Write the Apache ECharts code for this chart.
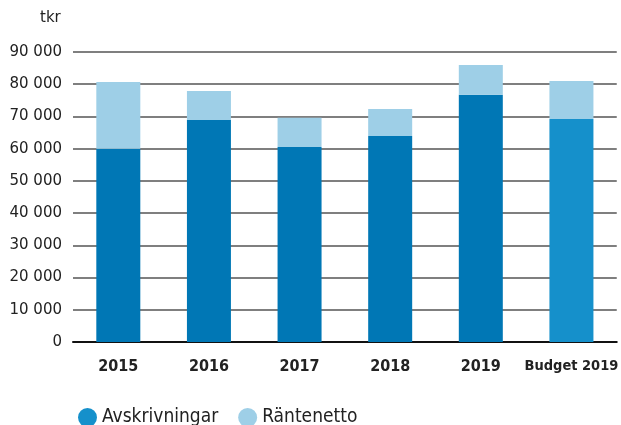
<!DOCTYPE html>
<html><head><meta charset="utf-8">
<script src="https://cdn.jsdelivr.net/npm/echarts@6/dist/echarts.min.js"></script>
<style>html,body{margin:0;padding:0;background:#fff}#c{width:621px;height:425px}</style>
</head><body><div id="c"></div>
<script>
const categories = ['2015','2016','2017','2018','2019','Budget 2019'];
const avskrivningar = [60000, 68900, 60500, 63900, 76700, 69200];
const rantenetto = [20700, 9000, 9100, 8400, 9300, 11800];
const yTicks = [0,10000,20000,30000,40000,50000,60000,70000,80000,90000];
const seriesNames = ['Avskrivningar','Räntenetto'];

const dark = '#0077b5', budget = '#1590cb', light = '#9ecfe7';
const chart = echarts.init(document.getElementById('c'), null, {renderer:'canvas'});
const fmt = v => v === 0 ? '0' : String(v).replace(/\B(?=(\d{3})+(?!\d))/g, ' ');
chart.setOption({
  animation:false,
  textStyle:{fontFamily:'DejaVu Sans'},
  grid:{left:73, right:0, top:52, bottom:83, containLabel:false},
  graphic:[{type:'text', left:40, top:11, style:{text:'tkr', fontSize:15, fill:'#222', fontFamily:'DejaVu Sans'}}],
  legend:{left:73, top:403, itemWidth:19, itemHeight:19, itemGap:20, icon:'circle',
    textStyle:{fontSize:19, color:'#222', fontFamily:'DejaVu Sans Condensed'},
    data:[{name:seriesNames[0], itemStyle:{color:budget}},{name:seriesNames[1]}]},
  xAxis:{type:'category', data:categories,
    axisLine:{lineStyle:{color:'#111', width:2}}, axisTick:{show:false},
    axisLabel:{interval:0, fontSize:16, fontWeight:'bold', color:'#222', margin:17, fontFamily:'DejaVu Sans Condensed',
      formatter:v=> v.length>4 ? '{s|'+v+'}' : v,
      rich:{s:{fontSize:14.5, fontWeight:'bold', color:'#222', fontFamily:'DejaVu Sans Condensed'}}}},
  yAxis:{type:'value', min:0, max:90000, interval:10000,
    axisLine:{show:false}, axisTick:{show:false},
    splitLine:{lineStyle:{color:'#555', width:1.5}},
    axisLabel:{fontSize:15, color:'#222', margin:11, formatter:v=>yTicks.includes(v)?fmt(v):''}},
  series:[
    {name:seriesNames[0], type:'bar', stack:'a', barWidth:44,
     data:avskrivningar.map((v,i)=>({value:v, itemStyle:{color: i===categories.length-1?budget:dark}})),
     itemStyle:{color:dark}},
    {name:seriesNames[1], type:'bar', stack:'a', barWidth:44, data:rantenetto, itemStyle:{color:light}}
  ]
});
</script></body></html>
